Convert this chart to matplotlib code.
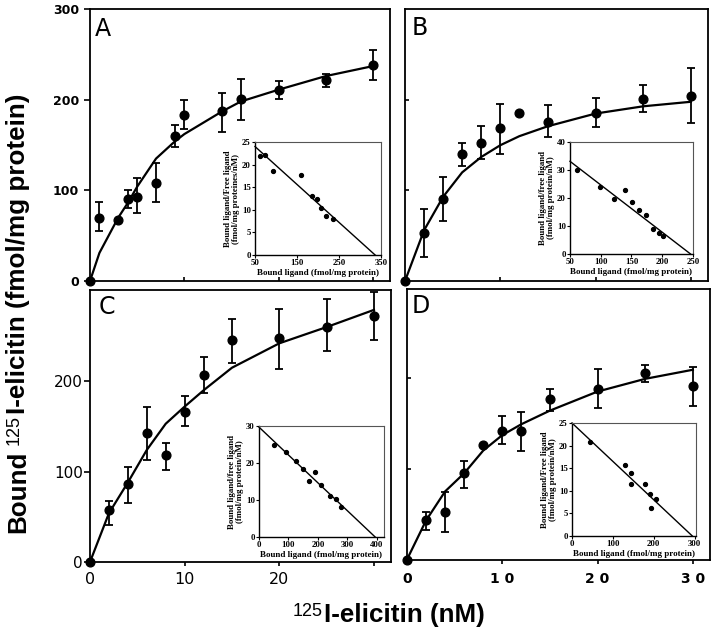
import matplotlib
matplotlib.use('Agg')
import matplotlib.pyplot as plt
import numpy as np
from matplotlib.transforms import IdentityTransform

# ---- main saturation data (x in nM, y in fmol/mg protein) ----
a_x = [0, 1, 3, 4, 5, 7, 9, 10, 14, 16, 20, 25, 30]
a_y = [0, 70, 67, 90, 93, 108, 160, 183, 187, 201, 211, 222, 238]
a_hi = [None, 87, None, 100, 114, 130, 172, 200, 207, 223, 221, 228, 255]
a_lo = [None, 55, None, 80, 75, 87, 148, 168, 164, 178, 201, 214, 222]
a_fit = [0, 31, 70, 86, 104, 135, 154, 162, 187, 198, 211, 226, 237]

b_x = [0, 2, 4, 6, 8, 10, 12, 15, 20, 25, 30]
b_y = [0, 53, 91, 140, 153, 169, 186, 176, 186, 201, 204]
b_hi = [None, 80, 115, 153, 171, 196, None, 194, 202, 216, 235]
b_lo = [None, 26, 66, 127, 135, 140, None, 159, 170, 187, 175]
b_fit = [0, 56, 93, 120, 137, 150, 160, 171, 185, 193, 198]

c_x = [0, 2, 4, 6, 8, 10, 12, 15, 20, 25, 30]
c_y = [0, 57, 86, 143, 118, 166, 207, 246, 248, 260, 272]
c_hi = [None, 68, 105, 172, 132, 184, 227, 269, 280, 291, 299]
c_lo = [None, 41, 65, 113, 102, 150, 187, 220, 214, 233, 246]
c_fit = [0, 54, 88, 124, 153, 172, 190, 215, 242, 260, 279]

d_x = [0, 2, 4, 6, 8, 10, 12, 15, 20, 25, 30]
d_y = [0, 43, 52, 95, 126, 142, 141, 177, 188, 205, 191]
d_hi = [None, 52, 74, 109, None, 158, 162, 188, 210, 214, 212]
d_lo = [None, 33, 30, 79, None, 127, 119, 164, 167, 196, 169]
d_fit = [0, 43, 75, 95, 120, 137, 149, 164, 185, 199, 209]

# ---- Scatchard insets ----
ia_x = [63, 74, 92, 159, 185, 198, 207, 219, 236]
ia_y = [22.0, 22.2, 18.6, 17.7, 13.1, 12.4, 10.4, 8.7, 8.0]
ia_lx = [50, 336]
ia_ly = [24.0, 0]

ib_x = [62, 99, 122, 140, 151, 162, 173, 185, 194, 201]
ib_y = [30.0, 24.0, 19.6, 22.7, 18.4, 15.8, 14.0, 8.8, 7.4, 6.4]
ib_lx = [50, 246]
ib_ly = [33.1, 0]

ic_x = [52, 93, 124, 149, 171, 191, 211, 240, 260, 278]
ic_y = [25.0, 22.9, 20.5, 18.4, 15.1, 17.7, 14.1, 11.1, 10.3, 8.2]
ic_lx = [0, 394]
ic_ly = [29.7, 0]

id_x = [44, 129, 144, 144, 178, 191, 193, 206]
id_y = [20.9, 15.6, 14.0, 11.6, 11.6, 9.3, 6.2, 8.1]
id_lx = [0, 294]
id_ly = [25, 0]

W, H = 717, 631
fig = plt.figure(figsize=(W / 100, H / 100), dpi=100)


def box(l, r, t, b):
    # pixel box (top-left origin) -> figure fraction rect
    return [l / W, 1 - b / H, (r - l) / W, (b - t) / H]


def panel(rect, x, y, lo, hi, fit, ylim, letter, lpos):
    ax = fig.add_axes(box(*rect))
    x = np.array(x, float)
    y = np.array(y, float)
    lo = np.array(lo, dtype=float)
    hi = np.array(hi, dtype=float)
    ax.errorbar(x, y, yerr=[y - lo, hi - y], fmt='none', ecolor='black',
                elinewidth=1.3, capsize=3, capthick=1.3, clip_on=False, zorder=2)
    ax.plot(x, fit, color='black', linewidth=1.6, clip_on=False, zorder=3)
    ax.plot(x, y, 'o', color='black', markersize=6.3, clip_on=False, zorder=4)
    ax.set_xlim(0, 31.8)
    ax.set_ylim(0, ylim)
    for s in ax.spines.values():
        s.set_linewidth(1.3)
    ax.text(lpos[0], lpos[1], letter, transform=IdentityTransform(),
            ha='center', va='center', fontsize=17, family='DejaVu Sans')
    return ax


axA = panel((90, 390, 8.5, 281), a_x, a_y, a_lo, a_hi, a_fit, 300.5, 'A', (103, H - 29))
axB = panel((405, 708, 9, 281), b_x, b_y, b_lo, b_hi, b_fit, 300.5, 'B', (420, H - 28))
axC = panel((90, 391, 290, 562), c_x, c_y, c_lo, c_hi, c_fit, 301, 'C', (107, H - 307))
axD = panel((407, 710, 288.5, 559.5), d_x, d_y, d_lo, d_hi, d_fit, 298.5, 'D', (421, H - 306))

# A: labelled y axis, inward x ticks
axA.set_yticks([0, 100, 200, 300])
axA.set_yticklabels(['0', '100', '200', '300'], fontsize=9, fontweight='bold')
axA.tick_params(axis='y', direction='out', length=4, width=1.2, pad=4)
axA.set_xticks([10, 20, 30])
axA.set_xticklabels([])
axA.tick_params(axis='x', direction='in', length=3, width=1.2)

# B: no labels
axB.set_yticks([100, 200])
axB.set_yticklabels([])
axB.set_xticks([10, 20, 30])
axB.set_xticklabels([])
axB.tick_params(direction='in', length=3, width=1.2)

# C
axC.set_yticks([0, 100, 200])
axC.set_yticklabels(['0', '100', '200'], fontsize=11)
axC.tick_params(axis='y', direction='out', length=4, width=1.2, pad=1)
axC.set_xticks([0, 10, 20, 30])
axC.set_xticklabels(['0', '10', '20', ''], fontsize=11.5)
axC.tick_params(axis='x', direction='out', length=3, width=1.2, pad=4)

# D
axD.set_yticks([100, 200])
axD.set_yticklabels([])
axD.tick_params(axis='y', direction='in', length=3, width=1.2)
axD.set_xticks([0, 10, 20, 30])
axD.set_xticklabels(['0', '1 0', '2 0', '3 0'], fontsize=10, fontweight='bold')
axD.tick_params(axis='x', direction='out', length=3, width=1.2, pad=6)


def inset(rect, sx, sy, lx, ly, xlim, ylim, xt, yt, ylab):
    ax = fig.add_axes(box(*rect))
    ax.set_zorder(5)
    ax.plot(lx, ly, color='black', linewidth=1.0, clip_on=False)
    ax.plot(sx, sy, 'o', color='black', markersize=2.8)
    ax.set_xlim(*xlim)
    ax.set_ylim(*ylim)
    ax.set_xticks(xt)
    ax.set_yticks(yt)
    serif = dict(family='Liberation Serif', fontweight='bold')
    ax.set_xticklabels([str(v) for v in xt], fontsize=6.3, **serif)
    ax.set_yticklabels([str(v) for v in yt], fontsize=6.3, **serif)
    ax.tick_params(direction='out', length=2, width=0.8, pad=1)
    ax.set_xlabel('Bound ligand (fmol/mg protein)', fontsize=6.5, labelpad=1, **serif)
    ax.set_ylabel(ylab, fontsize=6.4, labelpad=1.5, linespacing=0.95, **serif)
    for k in ('top', 'right'):
        ax.spines[k].set_color('#555555')
        ax.spines[k].set_linewidth(0.8)
    for k in ('left', 'bottom'):
        ax.spines[k].set_linewidth(1.0)
    return ax


inset((255, 381, 142, 255), ia_x, ia_y, ia_lx, ia_ly, (50, 350), (0, 25),
      [50, 150, 250, 350], [0, 5, 10, 15, 20, 25],
      'Bound ligand/Free ligand\n(fmol/mg proteines/nM)')
inset((570, 693, 142, 254), ib_x, ib_y, ib_lx, ib_ly, (50, 250), (0, 40),
      [50, 100, 150, 200, 250], [0, 10, 20, 30, 40],
      'Bound ligand/free ligand\n(fmol/mg protein/nM)')
inset((259, 384, 426, 537), ic_x, ic_y, ic_lx, ic_ly, (0, 424), (0, 30),
      [0, 100, 200, 300, 400], [0, 10, 20, 30],
      'Bound ligand/free ligand\n(fmol/mg protein/nM)')
inset((572, 696, 423, 536), id_x, id_y, id_lx, id_ly, (0, 303), (0, 25),
      [0, 100, 200, 300], [0, 5, 10, 15, 20, 25],
      'Bound ligand/Free ligand\n(fmol/mg protein/nM)')

# ---- shared axis titles with the small "125" ----
fig.canvas.draw()
rend = fig.canvas.get_renderer()
big = dict(family='Liberation Sans', fontweight='bold', fontsize=18.7)
small = dict(family='Liberation Sans', fontsize=13)


def chain(pieces, x0, y0, vertical):
    pos = y0 if vertical else x0
    for s, kw, shift, gap in pieces:
        pos += gap
        if vertical:
            t = fig.text(x0 - shift, pos, s, transform=IdentityTransform(), rotation=90,
                         rotation_mode='anchor', ha='left', va='baseline', **kw)
            pos += t.get_window_extent(rend).height
        else:
            t = fig.text(pos, y0 + shift, s, transform=IdentityTransform(),
                         ha='left', va='baseline', **kw)
            pos += t.get_window_extent(rend).width


chain([('Bound', big, 0, 0), ('125', small, 6, 6), ('I-elicitin (fmol/mg protein)', big, 0, 1)],
      25, H - 533, True)
chain([('125', small, 6, 0), ('I-elicitin (nM)', big, 0, 1)], 293, H - 622, False)

fig.savefig('out.png', dpi=100)
